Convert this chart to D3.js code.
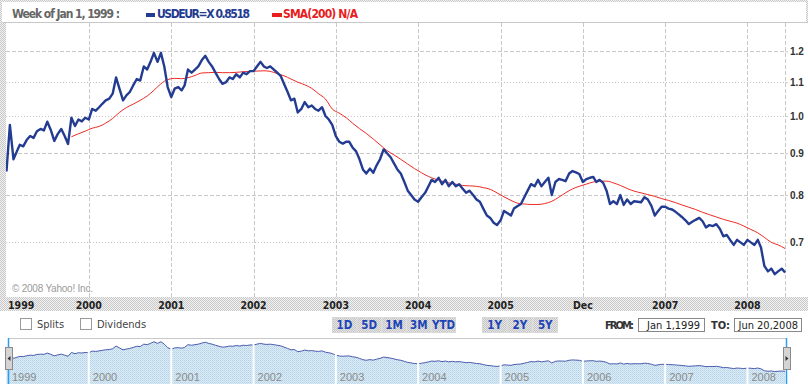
<!DOCTYPE html>
<html>
<head>
<meta charset="utf-8">
<script src="https://cdn.jsdelivr.net/npm/d3@7"></script>
<style>
  body { margin: 0; background: #fff; }
  svg { display: block; }
  text { font-family: "DejaVu Sans Condensed", "Liberation Sans", sans-serif; }
</style>
</head>
<body>
<script>
const closes = [
  0.855, 0.975, 0.885, 0.905, 0.922, 0.918, 0.935, 0.945, 0.94, 0.958, 0.964, 0.96,
  0.984, 0.962, 0.932, 0.95, 0.964, 0.945, 0.924, 0.995, 0.972, 0.99, 0.985, 0.995,
  0.99, 1.02, 1.015, 1.025, 1.035, 1.045, 1.05, 1.065, 1.115, 1.08, 1.045, 1.06,
  1.07, 1.09, 1.11, 1.105, 1.15, 1.14, 1.165, 1.195, 1.165, 1.195, 1.15, 1.085,
  1.055, 1.08, 1.085, 1.075, 1.09, 1.14, 1.13, 1.14, 1.15, 1.17, 1.185, 1.165,
  1.15, 1.13, 1.11, 1.095, 1.10, 1.115, 1.11, 1.125, 1.115, 1.13, 1.125, 1.135,
  1.135, 1.15, 1.165, 1.15, 1.145, 1.15, 1.14, 1.13, 1.12, 1.095, 1.07, 1.045,
  1.05, 1.01, 1.02, 1.04, 1.025, 1.03, 1.02, 1.015, 1.025, 1.0, 0.99, 0.975,
  0.945, 0.93, 0.925, 0.93, 0.93, 0.915, 0.905, 0.885, 0.86, 0.85, 0.862, 0.852,
  0.87, 0.885, 0.91, 0.90, 0.89, 0.875, 0.86, 0.85, 0.83, 0.81, 0.80, 0.79,
  0.785, 0.795, 0.805, 0.82, 0.835, 0.83, 0.84, 0.825, 0.835, 0.82, 0.83, 0.82,
  0.825, 0.815, 0.805, 0.81, 0.80, 0.79, 0.785, 0.77, 0.755, 0.75, 0.74, 0.735,
  0.745, 0.765, 0.76, 0.755, 0.77, 0.775, 0.78, 0.795, 0.81, 0.825, 0.82, 0.835,
  0.82, 0.83, 0.84, 0.80, 0.83, 0.837, 0.835, 0.832, 0.85, 0.856, 0.853, 0.849,
  0.83, 0.837, 0.84, 0.842, 0.83, 0.835, 0.828, 0.81, 0.78, 0.786, 0.78, 0.80,
  0.778, 0.79, 0.78, 0.786, 0.785, 0.784, 0.795, 0.79, 0.776, 0.755, 0.765, 0.774,
  0.774, 0.77, 0.768, 0.763, 0.758, 0.752, 0.745, 0.737, 0.742, 0.746, 0.75, 0.743,
  0.73, 0.735, 0.733, 0.737, 0.727, 0.712, 0.715, 0.705, 0.695, 0.705, 0.70, 0.695,
  0.705, 0.70, 0.695, 0.705, 0.69, 0.655, 0.645, 0.65, 0.64, 0.645, 0.65, 0.643
]

// SMA(200), read monthly (16th), Oct 1999 .. Jun 2008
const sma200 = [
  0.943, 0.951, 0.958,
  0.966, 0.971, 0.98, 0.993, 1.01, 1.024, 1.034, 1.045, 1.058, 1.075, 1.095, 1.108,
  1.112, 1.111, 1.114, 1.121, 1.129, 1.13, 1.131, 1.13, 1.13, 1.131, 1.133, 1.134,
  1.135, 1.136, 1.134, 1.127, 1.12, 1.11, 1.10, 1.092, 1.081, 1.065, 1.049, 1.02,
  1.008, 0.995, 0.98, 0.965, 0.952, 0.937, 0.922, 0.907, 0.896, 0.885, 0.873, 0.862,
  0.852, 0.843, 0.837, 0.832, 0.828, 0.825, 0.822, 0.821, 0.82, 0.817, 0.813, 0.805,
  0.796, 0.788, 0.782, 0.78, 0.779, 0.779, 0.781, 0.786, 0.795, 0.805, 0.814, 0.82,
  0.825, 0.83, 0.832, 0.832, 0.828, 0.822, 0.815, 0.809, 0.805, 0.801, 0.797, 0.792,
  0.788, 0.783, 0.778, 0.773, 0.768, 0.762, 0.757, 0.752, 0.747, 0.743, 0.739, 0.733,
  0.726, 0.719, 0.71, 0.70, 0.695, 0.688
]

const yTicks = [0.7, 0.8, 0.9, 1.0, 1.1, 1.2]
const yearTicks = [2000, 2001, 2002, 2003, 2004, 2005, 2006, 2007, 2008]
const yearLabels = ['1999', '2000', '2001', '2002', '2003', '2004', '2005', 'Dec', '2007', '2008']
const navLabels = ['1999', '2000', '2001', '2002', '2003', '2004', '2005', '2006', '2007', '2008']
const rangeButtons = ['1D', '5D', '1M', '3M', 'YTD']
const yearButtons = ['1Y', '2Y', '5Y']

const W = 808, H = 384
const plot = { left: 6, right: 785, top: 23, bottom: 297 }

const closeDates = closes.map((d, i) => new Date(1999, Math.floor(i / 2), i % 2 ? 16 : 1))
const smaDates = sma200.map((d, i) => new Date(1999, 9 + i, 16))

const x = d3.scaleTime()
  .domain([new Date(1999, 0, 1), new Date(2008, 5, 20)])
  .range([6.5, 786])

const y = d3.scaleLog()
  .domain([0.6, 1.3])
  .range([plot.bottom, plot.top])

const svg = d3.select('body').append('svg')
  .attr('width', W)
  .attr('height', H)

const defs = svg.append('defs')

// stippled frame fill
const stip = defs.append('pattern')
  .attr('id', 'stip')
  .attr('patternUnits', 'userSpaceOnUse')
  .attr('width', 2).attr('height', 2)
stip.append('rect').attr('width', 2).attr('height', 2).attr('fill', '#f2f2f2')
stip.append('rect').attr('width', 1).attr('height', 1).attr('fill', '#c8c8c8')
stip.append('rect').attr('x', 1).attr('y', 1).attr('width', 1).attr('height', 1).attr('fill', '#c8c8c8')

const btn = defs.append('pattern')
  .attr('id', 'btn')
  .attr('patternUnits', 'userSpaceOnUse')
  .attr('width', 2).attr('height', 2)
btn.append('rect').attr('width', 2).attr('height', 2).attr('fill', '#e6e6e6')
btn.append('rect').attr('width', 1).attr('height', 1).attr('fill', '#c4c4c4')
btn.append('rect').attr('x', 1).attr('y', 1).attr('width', 1).attr('height', 1).attr('fill', '#c4c4c4')

const navFill = defs.append('pattern')
  .attr('id', 'navfill')
  .attr('patternUnits', 'userSpaceOnUse')
  .attr('width', 2).attr('height', 2)
navFill.append('rect').attr('width', 2).attr('height', 2).attr('fill', '#dcecf6')
navFill.append('rect').attr('width', 1).attr('height', 1).attr('fill', '#b4d3e8')
navFill.append('rect').attr('x', 1).attr('y', 1).attr('width', 1).attr('height', 1).attr('fill', '#c4dcec')

defs.append('clipPath').attr('id', 'plotclip')
  .append('rect')
  .attr('x', plot.left).attr('y', plot.top)
  .attr('width', plot.right - plot.left + 2).attr('height', plot.bottom - plot.top)

// frame
svg.append('rect').attr('width', W).attr('height', 2).attr('fill', 'url(#stip)')
svg.append('rect').attr('width', 2).attr('height', 23).attr('fill', 'url(#stip)')
svg.append('rect').attr('x', W - 2).attr('width', 2).attr('height', 23).attr('fill', 'url(#stip)')
svg.append('rect').attr('y', plot.top).attr('width', plot.left).attr('height', 288).attr('fill', 'url(#stip)')
svg.append('rect').attr('y', plot.bottom).attr('width', W).attr('height', 14).attr('fill', 'url(#stip)')
svg.append('line')
  .attr('x1', 2).attr('x2', W)
  .attr('y1', plot.top - 0.5).attr('y2', plot.top - 0.5)
  .attr('stroke', '#c8c8c8')

// header legend
const head = svg.append('g').style('font-weight', 'bold').style('font-size', '12px')
head.append('text').attr('x', 12).attr('y', 18).attr('fill', '#666')
  .attr('textLength', 108).text('Week of Jan 1, 1999 :')
head.append('rect').attr('x', 146).attr('y', 13).attr('width', 9).attr('height', 4).attr('fill', '#233c92')
head.append('text').attr('x', 157).attr('y', 18).attr('fill', '#233c92')
  .attr('textLength', 93).text('USDEUR=X 0.8518')
head.append('rect').attr('x', 272).attr('y', 13).attr('width', 10).attr('height', 4).attr('fill', '#e8201c')
head.append('text').attr('x', 283).attr('y', 18).attr('fill', '#e8201c')
  .attr('textLength', 75).text('SMA(200) N/A')

// grid
const dotted = new Set([1.1, 1.0, 0.7])
svg.append('g')
  .selectAll('line')
  .data(yTicks)
  .join('line')
  .attr('x1', plot.left).attr('x2', plot.right)
  .attr('y1', d => Math.round(y(d)) + 0.5).attr('y2', d => Math.round(y(d)) + 0.5)
  .attr('stroke', '#c8c8c8')
  .attr('stroke-dasharray', d => dotted.has(d) ? '1,2' : '4,2')

svg.append('g')
  .selectAll('line')
  .data(yearTicks)
  .join('line')
  .attr('x1', d => Math.round(x(new Date(d, 0, 1))) + 0.5)
  .attr('x2', d => Math.round(x(new Date(d, 0, 1))) + 0.5)
  .attr('y1', plot.top).attr('y2', plot.bottom)
  .attr('stroke', '#c8c8c8')
  .attr('stroke-dasharray', '4,2')

svg.append('line')
  .attr('x1', plot.right + 0.5).attr('x2', plot.right + 0.5)
  .attr('y1', plot.top).attr('y2', plot.bottom)
  .attr('stroke', '#c8c8c8')
  .attr('stroke-dasharray', '4,2')

// right axis
const yAxis = svg.append('g')
  .attr('transform', `translate(${plot.right},0)`)
  .call(d3.axisRight(y).tickValues(yTicks).tickFormat(d3.format('.1f')).tickSize(3).tickPadding(2))
yAxis.select('.domain').remove()
yAxis.selectAll('line').attr('stroke', '#c8c8c8')
yAxis.selectAll('text')
  .attr('fill', '#333')
  .style('font-family', '"Liberation Sans", sans-serif')
  .style('font-weight', 'bold')
  .style('font-size', '10px')

svg.append('text')
  .attr('x', 12).attr('y', 292)
  .attr('fill', '#9a9a9a')
  .attr('textLength', 81)
  .style('font-family', '"Liberation Sans", sans-serif')
  .style('font-size', '10px')
  .text('\u00a9 2008  Yahoo! Inc.')

// series
const smaLine = d3.line()
  .x((d, i) => x(smaDates[i]))
  .y(d => y(d))
  .curve(d3.curveMonotoneX)

const closeLine = d3.line()
  .x((d, i) => x(closeDates[i]))
  .y(d => y(d))

const series = svg.append('g').attr('clip-path', 'url(#plotclip)')
series.append('path')
  .datum(sma200)
  .attr('d', smaLine)
  .attr('fill', 'none')
  .attr('stroke', '#ee2a24')
  .attr('stroke-width', 1)
series.append('path')
  .datum(closes)
  .attr('d', closeLine)
  .attr('fill', 'none')
  .attr('stroke', '#233c92')
  .attr('stroke-width', 2.4)
  .attr('stroke-linejoin', 'round')

// year labels
const yearPos = [new Date(1999, 0, 1)].concat(yearTicks.map(d => new Date(d, 0, 1)))
svg.append('g')
  .selectAll('text')
  .data(yearLabels)
  .join('text')
  .attr('x', (d, i) => i === 0 ? 8 : x(yearPos[i]))
  .attr('y', 309)
  .attr('text-anchor', (d, i) => i === 0 ? 'start' : 'middle')
  .attr('fill', '#222')
  .style('font-weight', 'bold')
  .style('font-size', '10.5px')
  .text(d => d)

// controls row
const ctl = svg.append('g').style('font-size', '11px')
;[['Splits', 20], ['Dividends', 80]].forEach(([label, cx]) => {
  ctl.append('rect').attr('x', cx + 0.5).attr('y', 318.5).attr('width', 11).attr('height', 11)
    .attr('fill', '#fff').attr('stroke', '#9a9a9a')
  ctl.append('text').attr('x', cx + 17).attr('y', 328).attr('fill', '#444').text(label)
})

function buttonGroup(labels, x0, w) {
  const g = ctl.append('g')
  labels.forEach((label, i) => {
    g.append('rect')
      .attr('x', x0 + i * w + 0.5).attr('y', 317.5)
      .attr('width', w - 1).attr('height', 15)
      .attr('fill', 'url(#btn)')
      .attr('stroke', '#d8d8d8')
    g.append('text')
      .attr('x', x0 + i * w + w / 2).attr('y', 329)
      .attr('text-anchor', 'middle')
      .attr('fill', '#1d45b8')
      .style('font-weight', 'bold')
      .style('font-size', '11.5px')
      .text(label)
  })
}
buttonGroup(rangeButtons, 332, 24.8)
buttonGroup(yearButtons, 482, 25.3)

ctl.append('text').attr('x', 605).attr('y', 329).attr('fill', '#333')
  .attr('textLength', 29)
  .style('font-weight', 'bold').style('font-size', '11px').text('FROM:')
ctl.append('rect').attr('x', 638.5).attr('y', 318.5).attr('width', 66).attr('height', 13)
  .attr('fill', '#fff').attr('stroke', '#888')
ctl.append('text').attr('x', 700).attr('y', 329).attr('text-anchor', 'end').attr('fill', '#222')
  .text('Jan 1,1999')
ctl.append('text').attr('x', 711).attr('y', 329).attr('fill', '#333')
  .attr('textLength', 19)
  .style('font-weight', 'bold').style('font-size', '11px').text('TO:')
ctl.append('rect').attr('x', 734.5).attr('y', 318.5).attr('width', 67).attr('height', 13)
  .attr('fill', '#fff').attr('stroke', '#888')
ctl.append('text').attr('x', 798).attr('y', 329).attr('text-anchor', 'end').attr('fill', '#222')
  .text('Jun 20,2008')

// navigator
const nav = svg.append('g')
const ny = d3.scaleLinear().domain([0.4, 1.25]).range([384.4, 338.8])
const navTop = 338

nav.append('line')
  .attr('x1', 8).attr('x2', 786)
  .attr('y1', navTop + 0.5).attr('y2', navTop + 0.5)
  .attr('stroke', '#c8c8c8')

nav.append('path')
  .datum(closes)
  .attr('d', d3.area()
    .x((d, i) => x(closeDates[i]))
    .y0(H)
    .y1(d => ny(d)))
  .attr('fill', 'url(#navfill)')

nav.append('path')
  .datum(closes)
  .attr('d', d3.line()
    .x((d, i) => x(closeDates[i]))
    .y(d => ny(d)))
  .attr('fill', 'none')
  .attr('stroke', '#4a5cae')
  .attr('stroke-width', 1)

nav.selectAll('.gap')
  .data(yearTicks)
  .join('rect')
  .attr('class', 'gap')
  .attr('x', d => x(new Date(d, 0, 1)) - 1)
  .attr('y', navTop + 1)
  .attr('width', 2)
  .attr('height', H - navTop)
  .attr('fill', '#fff')

nav.selectAll('.navlabel')
  .data(navLabels)
  .join('text')
  .attr('class', 'navlabel')
  .attr('x', (d, i) => (i === 0 ? 8 : x(yearPos[i])) + 4)
  .attr('y', 381)
  .attr('fill', '#8a8a8a')
  .style('font-family', '"Liberation Sans", sans-serif')
  .style('font-size', '11px')
  .text(d => d)

;[8, 786].forEach(hx => {
  nav.append('line')
    .attr('x1', hx + 0.5).attr('x2', hx + 0.5)
    .attr('y1', navTop).attr('y2', H)
    .attr('stroke', '#2a9df0')
    .attr('stroke-width', 1.5)
})
;[[5, -1], [783, 1]].forEach(([hx, dir]) => {
  nav.append('rect')
    .attr('x', hx + 0.5).attr('y', 347.5)
    .attr('width', 7).attr('height', 22)
    .attr('fill', '#d4d4d4')
    .attr('stroke', '#8a8a8a')
  const cx = hx + 4, cy = 358.5
  nav.append('path')
    .attr('d', `M${cx - dir * 1.5},${cy - 2.5} L${cx + dir * 1.5},${cy} L${cx - dir * 1.5},${cy + 2.5} Z`)
    .attr('fill', '#333')
})
</script>
</body>
</html>
